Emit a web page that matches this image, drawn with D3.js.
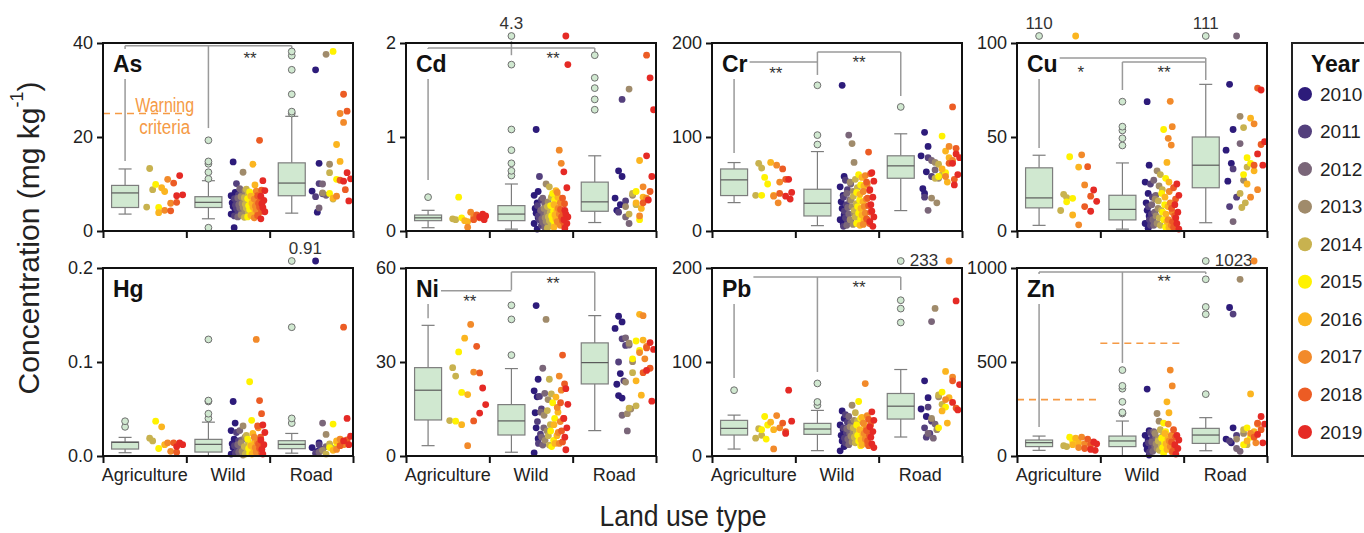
<!DOCTYPE html>
<html><head><meta charset="utf-8">
<script src="https://cdn.jsdelivr.net/npm/d3@7"></script>
<style>body{margin:0;background:#fff} svg{font-family:"Liberation Sans",Arial,sans-serif}</style>
</head><body><svg id="c" width="1364" height="533"></svg>
<script>
const categories = ["Agriculture", "Wild", "Road"];
const years = [2010, 2011, 2012, 2013, 2014, 2015, 2016, 2017, 2018, 2019];
const yearColors = ["#2d1b7a", "#54407d", "#7a6679", "#a08b6b", "#c8b24f", "#fff200", "#fbb520", "#f28a2a", "#ec5c24", "#e52a25"];
const elements = ["As", "Cd", "Cr", "Cu", "Hg", "Ni", "Pb", "Zn"];
const yMaxes = [40, 2, 200, 100, 0.2, 60, 200, 1000];
const tickFormats = ["d", "d", "d", "d", ".1f", "d", "d", "d"];

// box stats per category: [low whisker, q1, median, q3, high whisker]
const boxAs = [[3.6, 5.0, 8.1, 9.7, 13.2], [2.6, 5.0, 6.1, 7.3, 10.7], [3.8, 7.5, 10.2, 14.5, 24.4]];
const boxCd = [[0.035, 0.11, 0.14, 0.17, 0.22], [0.02, 0.11, 0.18, 0.27, 0.50], [0.09, 0.21, 0.31, 0.52, 0.80]];
const boxCr = [[30.2, 37.7, 54.4, 66, 72.8], [5.7, 16, 29.5, 44.4, 84.5], [21.7, 56.1, 69.3, 80, 103.4]];
const boxCu = [[3, 12.3, 17.6, 33.6, 40.3], [1, 5.9, 11.5, 19, 36.2], [4.4, 23, 35, 50, 78]];
const boxHg = [[0.0035, 0.0074, 0.0145, 0.0149, 0.0198], [0, 0.0042, 0.0124, 0.0177, 0.036], [0.003, 0.0078, 0.0124, 0.0163, 0.024]];
const boxNi = [[3.3, 11.5, 21, 28.2, 41.7], [1.2, 6.7, 11.2, 16.4, 27.9], [8.1, 23, 29.8, 36.1, 44.8]];
const boxPb = [[7.4, 22.3, 29.4, 37.9, 43.5], [5.7, 23, 28.7, 34.7, 48.5], [20.2, 39.3, 53, 66.5, 92]];
const boxZn = [[30, 50, 71, 85, 106], [0, 50, 80, 106, 186], [28, 67, 111.5, 147, 204]];

const outAs = [[], [0.7, 11.1, 12.5, 14.3, 14.8, 19.3], [25.0, 25.4, 29.1, 34.3, 37.3, 38.2]];
const outCd = [[0.36], [0.59, 0.64, 0.72, 0.86, 1.08, 1.77, 4.3], [1.29, 1.40, 1.52, 1.63, 1.87]];
const outCr = [[], [92, 102, 155], [132]];
const outCu = [[110], [45.5, 49.3, 53.5, 55.5, 68.8], [111]];
const outHg = [[0.031, 0.037], [0.040, 0.045, 0.058, 0.059, 0.124], [0.035, 0.040, 0.137, 0.91]];
const outNi = [[], [32.2, 43.6, 48.1], []];
const outPb = [[70], [54, 57.5, 77.2], [142, 156.8, 165.7, 233]];
const outZn = [[], [226, 232, 288, 358, 373, 457], [329, 754, 793, 940, 1023]];

// yearly sample values: [Agriculture, Wild, Road], each with 10 arrays (2010..2019)
const dotsAs = [
  [[], [], [], [], [13.3, 8.8, 5.1], [9.9, 5.0], [9.2, 8.4, 3.9], [11.0, 5.9, 4.4], [10.2, 6.1, 4.3], [11.8, 7.7, 7.5]],
  [[14.7, 8.2, 7.5, 6.8, 6.0, 5.2, 4.3, 3.6, 0.7], [10.1, 7.7, 6.9, 6.2, 5.5, 4.8, 4.0, 3.2], [9.0, 7.8, 7.0, 6.3, 5.6, 4.9, 4.1, 3.0],
   [12.5, 8.6, 7.3, 6.5, 5.8, 5.0, 4.2, 3.4], [8.9, 7.9, 7.1, 6.4, 5.7, 4.9, 3.9, 2.9], [8.3, 7.6, 6.9, 6.2, 5.4, 4.6, 3.7, 3.0],
   [14.2, 9.8, 7.4, 6.6, 5.9, 5.1, 4.3, 3.3], [8.5, 7.7, 6.8, 6.1, 5.3, 4.5, 3.6, 2.8], [19.3, 8.7, 7.5, 6.7, 5.9, 5.1, 4.2, 3.3],
   [10.7, 8.6, 7.4, 6.5, 5.8, 5.0, 4.1, 2.6]],
  [[34.3, 14.4, 8.5, 4.0], [10.1, 7.9, 7.3], [10.0, 7.6, 4.9], [37.6, 14.2, 8.1], [12.4, 6.8], [38.2, 11.0, 8.0],
   [18.4, 14.8, 7.0], [25.0, 23.1, 7.4], [29.1, 25.5, 10.8, 8.8], [12.4, 11.1, 10.6, 6.4]]
];
const dotsCd = [
  [[], [], [], [], [0.13, 0.12], [0.36, 0.14], [0.11, 0.10], [0.20, 0.15, 0.04], [0.17, 0.14, 0.12], [0.18, 0.16, 0.15, 0.12]],
  [[1.08, 0.42, 0.38, 0.30, 0.24, 0.19, 0.14, 0.08, 0.02], [0.58, 0.33, 0.27, 0.21, 0.16, 0.12, 0.06], [0.35, 0.29, 0.22, 0.17, 0.13, 0.09, 0.04],
   [0.50, 0.31, 0.24, 0.19, 0.14, 0.10, 0.05], [0.47, 0.36, 0.26, 0.20, 0.15, 0.11, 0.07, 0.03], [0.40, 0.33, 0.27, 0.21, 0.16, 0.12, 0.08],
   [0.43, 0.36, 0.28, 0.22, 0.17, 0.13, 0.09, 0.04], [0.86, 0.72, 0.41, 0.30, 0.24, 0.18, 0.14, 0.10, 0.06], [0.35, 0.29, 0.23, 0.19, 0.15, 0.11, 0.07],
   [4.3, 1.77, 0.63, 0.46, 0.22, 0.18, 0.15, 0.12, 0.08, 0.03]],
  [[0.64, 0.58, 0.35, 0.28, 0.22], [1.40, 0.32, 0.20], [0.15, 0.08], [1.51, 0.38, 0.26], [0.40, 0.28, 0.18], [0.42, 0.12],
   [0.75, 0.36, 0.30, 0.24], [0.47, 0.35, 0.16], [1.87, 0.42, 0.30], [1.63, 1.29, 0.80, 0.58, 0.33]]
];
const dotsCr = [
  [[], [], [], [], [72, 67, 38], [57, 50, 38], [73, 38], [70, 52, 37, 30], [66, 55, 40], [55, 41, 37, 34]],
  [[155, 58, 47, 38, 31, 24, 17, 12, 8], [54, 44, 36, 28, 21, 14, 9, 5], [102, 50, 40, 33, 25, 18, 11, 6], [93, 73, 52, 42, 33, 26, 19, 12, 7],
   [55, 46, 37, 29, 22, 15, 9], [60, 49, 41, 33, 26, 19, 13, 8], [57, 48, 39, 31, 24, 17, 11, 6], [59, 50, 42, 34, 26, 19, 12, 7],
   [84, 61, 52, 43, 35, 27, 20, 13, 8], [62, 53, 44, 36, 28, 21, 15, 10, 5]],
  [[105, 90, 80, 63, 45, 40], [78, 58, 36], [75, 65, 22], [73, 56, 35, 30], [71, 60, 56], [101, 62, 58], [85, 78, 66, 52],
   [90, 75, 58], [132, 88, 72, 55], [82, 78, 72, 60, 49]]
];
const dotsCu = [
  [[], [], [], [], [19.5, 17.8, 10.9], [39.5, 17.4, 15.5], [110, 34, 8.5], [40.5, 24.5, 3.3], [34.2, 18.5, 13], [21.8, 15.8, 10.5]],
  [[68.8, 35, 26, 20, 15, 11, 8, 4, 1.5], [25, 18, 13, 9, 6, 3], [27, 19, 14, 10, 6, 3], [32, 24, 17, 12, 8, 4], [30, 22, 16, 11, 7, 3],
   [54, 28, 20, 14, 10, 6, 2], [36.5, 26, 18, 13, 9, 5, 2], [69, 55.5, 49.3, 45.7, 21, 15, 10, 6, 3], [23, 17, 12, 8, 5, 2],
   [25, 19, 14, 10, 7, 4, 1]],
  [[78, 54, 43, 36, 26.5], [33, 18, 13], [111, 46.5, 5], [61, 27], [55, 34, 20, 15, 12.5], [39, 36, 30], [60, 32, 25], [57, 22, 18],
   [76, 46, 35], [75, 47.5, 41, 35]]
];
const dotsHg = [
  [[], [], [], [], [0.019, 0.016], [0.037, 0.008], [0.031, 0.012], [0.014, 0.005], [0.014, 0.004], [0.014, 0.012, 0.010]],
  [[0.058, 0.035, 0.027, 0.018, 0.013, 0.009, 0.005, 0.002], [0.025, 0.016, 0.011, 0.007, 0.003], [0.027, 0.017, 0.012, 0.008, 0.004],
   [0.032, 0.020, 0.014, 0.009, 0.005, 0.001], [0.022, 0.015, 0.010, 0.006, 0.002], [0.079, 0.038, 0.018, 0.012, 0.008, 0.003],
   [0.024, 0.016, 0.011, 0.007, 0.002], [0.124, 0.030, 0.020, 0.014, 0.009, 0.004], [0.059, 0.045, 0.032, 0.020, 0.013, 0.008, 0.003],
   [0.033, 0.025, 0.017, 0.012, 0.007, 0.002]],
  [[0.91, 0.014, 0.009, 0.005], [0.012, 0.007, 0.003], [0.035, 0.010, 0.004], [0.023, 0.011, 0.006], [0.013, 0.008, 0.002],
   [0.034, 0.014, 0.009], [0.016, 0.011, 0.006], [0.018, 0.012, 0.007], [0.137, 0.017, 0.011], [0.040, 0.021, 0.016, 0.012]]
];
const dotsNi = [
  [[], [], [], [], [28.2, 25.5, 11.3], [33.2, 20.3, 11.1], [37.6, 19.6, 10], [42, 26.8, 3.3], [35, 26.5, 11.2], [21.7, 16.4, 13.7]],
  [[48, 24.5, 20.8, 18.9, 13.8, 9, 5.5, 1.0], [19, 15, 11, 7, 4], [28, 20, 14, 9, 6, 3.5], [43.6, 18, 13, 8, 5], [24.5, 19.8, 14.5, 10, 6.5, 3.5],
   [17, 12, 8, 5, 3], [18.8, 14, 10, 6.5, 4], [25.5, 21, 15.5, 11, 7.5, 4], [32.2, 23, 17, 12, 8, 4.5], [21.5, 16.5, 12, 9, 6, 2]],
  [[44.6, 42.8, 40.7, 26.3, 22.9, 19.3, 18.5], [37.4, 35.3, 30, 24], [37.7, 35.4, 13, 8], [36, 30.1, 23.6, 15, 13.5], [26.6, 16, 15.3],
   [36.7, 33.7, 31], [45.2, 37, 24, 19.4], [44.8, 35, 33, 31], [34.5, 28, 26.6], [36.2, 34, 27.3, 17.5]]
];
const dotsPb = [
  [[], [], [], [], [29, 22, 19], [42, 33, 28, 18], [36, 28], [43, 30, 7.5], [35, 26], [70, 37, 24]],
  [[48, 40, 33, 28, 22, 16, 10, 5.5], [44, 36, 30, 25, 19, 14], [42, 35, 29, 24, 18, 12], [54, 38, 31, 26, 21, 15], [46, 37, 30, 25, 20, 14],
   [58, 40, 33, 27, 22, 16, 11], [41, 34, 28, 23, 17, 12], [77, 43, 35, 29, 24, 18, 13], [39, 33, 27, 22, 16, 11], [47, 38, 31, 26, 20, 13, 9]],
  [[80, 62, 50, 42], [52, 37, 30, 24, 20], [143, 34, 24, 19], [157, 63, 40, 28], [65, 55], [68, 52, 30], [90, 62, 48, 35],
   [233, 84, 60], [80, 51], [165, 76, 57, 49]]
];
const dotsZn = [
  [[], [], [], [], [55, 50], [100, 80], [95, 70, 60], [100, 65, 45], [90, 60, 40], [75, 65, 35, 30]],
  [[356, 135, 110, 85, 60, 35, 5], [125, 95, 70, 45, 20], [130, 100, 75, 50, 25], [226, 185, 120, 90, 65, 40], [140, 105, 80, 55, 30],
   [175, 130, 95, 70, 45, 15], [288, 230, 120, 90, 65, 35], [457, 373, 170, 110, 80, 50, 20], [140, 100, 75, 50, 25], [110, 85, 60, 40, 10]],
  [[790, 150, 90, 70], [755, 110, 80], [40, 25], [940, 120, 90], [140, 60], [150, 100, 60], [330, 130, 80], [1023, 170, 120, 70],
   [175, 140, 100], [210, 170, 115, 70]]
];

// significance brackets: [catPos1, value1, catPos2, value2] ; stars: [catPos, value, text]
const bracketsAs = [[0, 39.4, 2, 39.4], [0, 39.4, 0, 14.9], [1, 39.4, 1, 21.9], [2, 39.4, 2, 38.7]];
const starsAs = [[1.5, 36.8, "**"]];
const bracketsCd = [[0, 1.947, 2, 1.947], [0, 1.947, 0, 0.543], [1, 2.02, 1, 1.87], [2, 1.947, 2, 1.87]];
const starsCd = [[1.5, 1.84, "**"]];
const bracketsCr = [[0, 179.8, 1, 179.8], [0, 179.8, 0, 83], [1, 190.4, 2, 190.4], [1, 190.4, 1, 166], [2, 190.4, 2, 143.6]];
const starsCr = [[0.5, 168, "**"], [1.5, 179, "**"]];
const bracketsCu = [[0, 92, 2, 92], [0, 92, 0, 44.1], [1, 89.9, 2, 89.9], [1, 89.9, 1, 75], [2, 92, 2, 80.3]];
const starsCu = [[0.5, 84.5, "*"], [1.5, 84.2, "**"]];
const bracketsHg = [];
const starsHg = [];
const bracketsNi = [[0, 52.7, 1, 52.7], [0, 52.7, 0, 44], [1, 58.7, 2, 58.7], [1, 58.7, 1, 53], [2, 58.7, 2, 46.3]];
const starsNi = [[0.5, 49.4, "**"], [1.5, 55.2, "**"]];
const bracketsPb = [[0, 190.4, 2, 190.4], [0, 190.4, 0, 83], [1, 190.4, 1, 89.4], [2, 190.4, 2, 176.6]];
const starsPb = [[1.5, 179, "**"]];
const bracketsZn = [[0, 978.7, 2, 978.7], [0, 978.7, 0, 154], [1, 978.7, 1, 495], [2, 978.7, 2, 968]];
const starsZn = [[1.5, 928, "**"]];

// warning criteria: [category index, value]
const warnAs = [[0, 25]];
const warnZn = [[0, 300], [1, 600]];

const DATA = {
  As: {box: boxAs, out: outAs, dots: dotsAs, br: bracketsAs, st: starsAs, warn: warnAs},
  Cd: {box: boxCd, out: outCd, dots: dotsCd, br: bracketsCd, st: starsCd, warn: []},
  Cr: {box: boxCr, out: outCr, dots: dotsCr, br: bracketsCr, st: starsCr, warn: []},
  Cu: {box: boxCu, out: outCu, dots: dotsCu, br: bracketsCu, st: starsCu, warn: []},
  Hg: {box: boxHg, out: outHg, dots: dotsHg, br: bracketsHg, st: starsHg, warn: []},
  Ni: {box: boxNi, out: outNi, dots: dotsNi, br: bracketsNi, st: starsNi, warn: []},
  Pb: {box: boxPb, out: outPb, dots: dotsPb, br: bracketsPb, st: starsPb, warn: []},
  Zn: {box: boxZn, out: outZn, dots: dotsZn, br: bracketsZn, st: starsZn, warn: warnZn}
};
const overflowLabelPlace = {Cd: "above", Cu: "above", Hg: "aboveRight", Pb: "right", Zn: "right"};

const svg = d3.select("#c");
svg.append("rect").attr("width", 1364).attr("height", 533).attr("fill", "#fff");
const panelW = 250, panelH = 188;
const panelX = [103, 406, 712, 1017];
const panelY = [43, 268];
const boxFill = "#d0e8d0", boxStroke = "#7d7d7d", lineGray = "#9a9a9a", warnColor = "#f59a45";
const stepByCat = [6, 3.3, 3.5], spreadByCat = [3, 2, 3.5], altPattern = [0, 1, -1, 0.5, -0.5];

elements.forEach((el, i) => {
  const D = DATA[el];
  const yMax = yMaxes[i];
  const px = panelX[i % 4], py = panelY[Math.floor(i / 4)];
  const g = svg.append("g").attr("transform", `translate(${px},${py})`);
  const x = d3.scaleBand().domain(categories).range([0, panelW]);
  const xPos = d3.scaleLinear().domain([0, 3]).range([0, panelW]);
  const y = d3.scaleLinear().domain([0, yMax]).range([panelH, 0]);
  const boxC = ci => xPos(ci + 0.265);
  const dotC = ci => xPos(ci + 0.74);
  const yv = v => v > yMax ? y(yMax) - 7 : y(v);

  // warning lines
  D.warn.forEach(w => {
    g.append("line").attr("x1", xPos(w[0])).attr("x2", xPos(w[0] + 1))
      .attr("y1", y(w[1])).attr("y2", y(w[1]))
      .attr("stroke", warnColor).attr("stroke-width", 1.6).attr("stroke-dasharray", "7,5");
  });
  if (el === "As") {
    [["Warning", 26.9, 59], ["criteria", 22.2, 51]].forEach(t => {
      g.append("text").attr("x", xPos(0.74)).attr("y", y(t[1])).attr("text-anchor", "middle")
        .attr("dominant-baseline", "central").attr("fill", warnColor).attr("font-size", 20)
        .attr("textLength", t[2]).attr("lengthAdjust", "spacingAndGlyphs").text(t[0]);
    });
  }

  // brackets
  D.br.forEach(b => {
    g.append("line").attr("x1", boxC(b[0])).attr("y1", y(b[1])).attr("x2", boxC(b[2])).attr("y2", y(b[3]))
      .attr("stroke", lineGray).attr("stroke-width", 1.5);
  });
  D.st.forEach(s => {
    g.append("text").attr("x", boxC(s[0])).attr("y", y(s[1])).attr("text-anchor", "middle")
      .attr("dominant-baseline", "central").attr("font-size", 17).attr("fill", "#333").text(s[2]);
  });

  // panel label with white background
  const lab = g.append("text").attr("x", 10).attr("y", 29).attr("font-weight", "bold")
    .attr("font-size", 23).attr("fill", "#111").text(el);
  const bb = lab.node().getBBox();
  g.insert("rect", () => lab.node()).attr("x", bb.x - 2).attr("y", bb.y - 2)
    .attr("width", bb.width + 4).attr("height", bb.height + 4).attr("fill", "#fff");

  // boxes
  categories.forEach((c, ci) => {
    const [lo, q1, md, q3, hi] = D.box[ci];
    const cx = boxC(ci), hw = 13.5, cw = 6.5;
    const gb = g.append("g").attr("stroke", boxStroke).attr("stroke-width", 1.2);
    gb.append("line").attr("x1", cx).attr("x2", cx).attr("y1", y(lo)).attr("y2", y(q1));
    gb.append("line").attr("x1", cx).attr("x2", cx).attr("y1", y(q3)).attr("y2", y(hi));
    gb.append("line").attr("x1", cx - cw).attr("x2", cx + cw).attr("y1", y(lo)).attr("y2", y(lo));
    gb.append("line").attr("x1", cx - cw).attr("x2", cx + cw).attr("y1", y(hi)).attr("y2", y(hi));
    gb.append("rect").attr("x", cx - hw).attr("width", 2 * hw).attr("y", y(q3)).attr("height", y(q1) - y(q3))
      .attr("fill", boxFill);
    gb.append("line").attr("x1", cx - hw).attr("x2", cx + hw).attr("y1", y(md)).attr("y2", y(md)).attr("stroke", "#5a5a5a");
    // outliers
    D.out[ci].forEach(v => {
      g.append("circle").attr("cx", cx).attr("cy", yv(v)).attr("r", 3.4)
        .attr("fill", boxFill).attr("stroke", "#6f6f6f").attr("stroke-width", 1);
      if (v > yMax) {
        const place = overflowLabelPlace[el];
        const t = g.append("text").attr("font-size", 17).attr("fill", "#333").text(String(v));
        if (place === "above") t.attr("x", cx).attr("y", yv(v) - 13).attr("text-anchor", "middle").attr("dominant-baseline", "central");
        else if (place === "aboveRight") t.attr("x", cx - 3).attr("y", yv(v) - 13).attr("dominant-baseline", "central");
        else t.attr("x", cx + 9).attr("y", yv(v) - 1).attr("dominant-baseline", "central");
      }
    });
    // dots
    const yearsArr = D.dots[ci];
    const present = yearsArr.map((a, k) => a.length ? k : -1).filter(k => k >= 0);
    const mid = (d3.min(present) + d3.max(present)) / 2;
    yearsArr.forEach((vals, yi) => {
      vals.forEach((v, j) => {
        g.append("circle")
          .attr("cx", dotC(ci) + (yi - mid) * stepByCat[ci] + altPattern[j % 5] * spreadByCat[ci])
          .attr("cy", yv(v)).attr("r", 3.4).attr("fill", yearColors[yi]);
      });
    });
  });

  // frame
  g.append("rect").attr("width", panelW).attr("height", panelH).attr("fill", "none")
    .attr("stroke", "#111").attr("stroke-width", 2);

  // y axis
  const ya = g.append("g").call(d3.axisLeft(y).tickValues([0, yMax / 2, yMax]).tickSize(6).tickPadding(4)
    .tickFormat(d3.format(tickFormats[i])));
  ya.select(".domain").remove();
  ya.selectAll("line").attr("stroke", "#111").attr("stroke-width", 2);
  ya.selectAll("text").attr("font-size", 18).attr("fill", "#222").attr("font-family", "Liberation Sans, Arial, sans-serif");

  // x axis ticks at category boundaries
  const xa = g.append("g").attr("transform", `translate(0,${panelH})`)
    .call(d3.axisBottom(xPos).tickValues([0, 1, 2, 3]).tickSize(7).tickFormat(""));
  xa.select(".domain").remove();
  xa.selectAll("line").attr("stroke", "#111").attr("stroke-width", 2);
  if (py === panelY[1]) {
    const xl = g.append("g").attr("transform", `translate(0,${panelH})`)
      .call(d3.axisBottom(x).tickSize(0).tickPadding(12));
    xl.select(".domain").remove();
    xl.selectAll("text").attr("font-size", 18).attr("fill", "#222").attr("font-family", "Liberation Sans, Arial, sans-serif");
  }
});

// legend
const lg = svg.append("g");
lg.append("rect").attr("x", 1292).attr("y", 43).attr("width", 120).attr("height", 413)
  .attr("fill", "none").attr("stroke", "#222").attr("stroke-width", 2);
lg.append("text").attr("x", 1311).attr("y", 72).attr("font-weight", "bold").attr("font-size", 23).attr("fill", "#111").text("Year");
const ly = d3.scalePoint().domain(years).range([94, 432]);
years.forEach((yr, k) => {
  lg.append("circle").attr("cx", 1305).attr("cy", ly(yr)).attr("r", 7).attr("fill", yearColors[k]);
  lg.append("text").attr("x", 1320).attr("y", ly(yr)).attr("dominant-baseline", "central")
    .attr("font-size", 19).attr("fill", "#222").text(yr);
});

// axis titles
const yt = svg.append("text").attr("transform", "translate(28,238) rotate(-90)")
  .attr("text-anchor", "middle").attr("dominant-baseline", "central").attr("font-size", 30).attr("fill", "#222");
yt.append("tspan").text("Concentration (mg kg");
yt.append("tspan").attr("dy", -11).attr("font-size", 18).text("-1");
yt.append("tspan").attr("dy", 11).text(")");
svg.append("text").attr("x", 683).attr("y", 526).attr("text-anchor", "middle").attr("font-size", 30)
  .attr("fill", "#222").attr("textLength", 167).attr("lengthAdjust", "spacingAndGlyphs").text("Land use type");
</script></body></html>
